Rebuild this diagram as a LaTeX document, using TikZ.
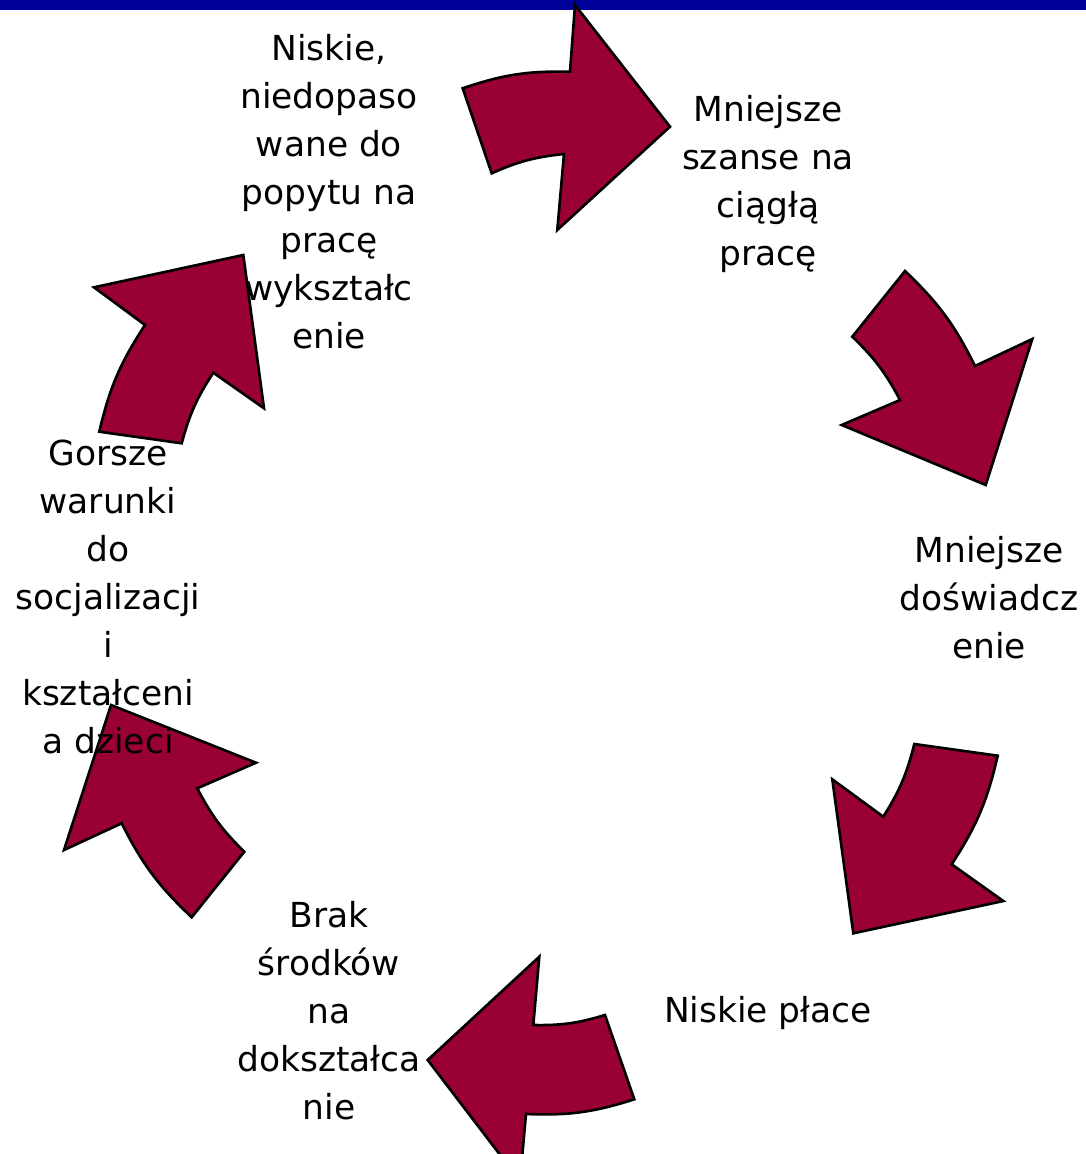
\documentclass[tikz,border=0pt]{standalone}
\usepackage{fontspec}
\setmainfont{DejaVu Sans}
\usepackage{xcolor}
\definecolor{cyclered}{RGB}{153,0,51}
\definecolor{barblue}{RGB}{0,0,153}

\begin{document}
\begin{tikzpicture}[x=0.02cm, y=-0.02cm,
    cyclearrow/.style={draw=black, line width=1.5pt, line join=miter, fill=cyclered},
    caption/.style={anchor=base, align=center, inner sep=0pt, font=\fontsize{19.6pt}{27.3pt}\selectfont}
]
    \clip (0,0) rectangle (1086,1154);
    \fill[white] (0,0) rectangle (1086,1154);
    \fill[barblue] (0,0) rectangle (1086,9.5);

    % arrows, clockwise from the top
    \draw[cyclearrow] (462.7,88.3) to[bend left=10] (570,71.7) -- (575,5) -- (670,126.7) -- (557.3,230) -- (564,154) to[bend right=9] (491.7,173.3) -- cycle;
    \draw[cyclearrow] (905,271) to[bend left=10] (975,366) -- (1032.3,339) -- (985.7,485) -- (841.7,425) -- (900,400) to[bend right=9] (852.3,336.7) -- cycle;
    \draw[cyclearrow] (997.7,755.7) to[bend left=10] (951.7,864.3) -- (1003.3,901) -- (853.3,933.3) -- (832.3,779.3) -- (883.3,816.7) to[bend right=9] (914.3,744) -- cycle;
    \draw[cyclearrow] (634.3,1099.3) to[bend left=10] (526,1114) -- (520,1181) -- (427.7,1060) -- (539.3,956.7) -- (533.3,1025) to[bend right=9] (605,1015) -- cycle;
    \draw[cyclearrow] (191.7,917.3) to[bend left=10] (121.7,823.3) -- (64,850) -- (111,705) -- (256,762.7) -- (197.3,788.3) to[bend right=9] (244.3,851.7) -- cycle;
    \draw[cyclearrow] (99.3,431.7) to[bend left=10] (145,325) -- (94,287.3) -- (243.3,255) -- (264,408.3) -- (213.3,372.7) to[bend right=9] (181.7,443.3) -- cycle;

    % captions (anchored at the baseline of their last line)
    \node[caption] (education) at (329,348) {Niskie,\\niedopaso\\wane do\\popytu na\\pracę\\wykształc\\enie};
    \node[caption] (chances) at (768,265.7) {Mniejsze\\szanse na\\ciągłą\\pracę};
    \node[caption] (experience) at (989,658) {Mniejsze\\doświadcz\\enie};
    \node[caption] (wages) at (768,1022) {Niskie płace};
    \node[caption] (means) at (329,1119) {Brak\\środków\\na\\dokształca\\nie};
    \node[caption] (children) at (108,753) {Gorsze\\warunki\\do\\socjalizacji\\i\\kształceni\\a dzieci};
\end{tikzpicture}
\end{document}
